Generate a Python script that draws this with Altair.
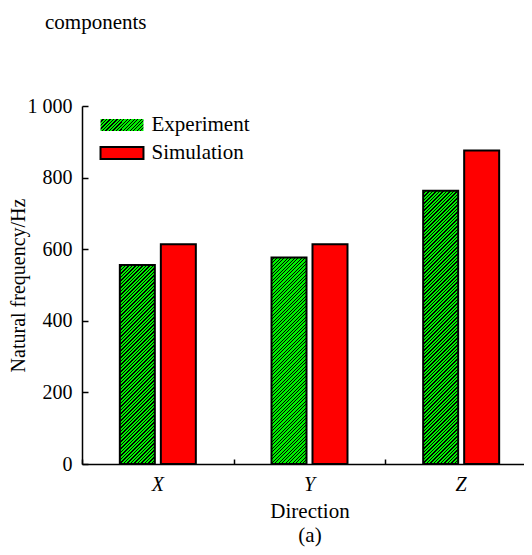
import altair as alt
import pandas as pd

directions = ["X", "Y", "Z"]
experiment = [556, 577, 763]
simulation = [614, 614, 876]
series_names = ["Experiment", "Simulation"]
y_ticks = [0, 200, 400, 600, 800, 1000]
chart_title = "components"
x_title = ["Direction", "(a)"]
y_title = "Natural frequency/Hz"

rows = []
for d, e, s in zip(directions, experiment, simulation):
    rows.append({"direction": d, "series": "Experiment", "value": e})
    rows.append({"direction": d, "series": "Simulation", "value": s})
df = pd.DataFrame(rows)

FONT = "Liberation Serif"
PLOT_H = 358
X_RANGE = 455
VIEW_W = 442
BAR_W = 35
GREEN = "#00f000"
BLACK = "#000000"
RED = "#ff0000"
PERIOD = 3.5
GREEN_PART = 0.62


def hatch(w, h):
    total = w + h
    stops = []
    k = 0
    while k * PERIOD < total:
        a = k * PERIOD
        b = a + GREEN_PART * PERIOD
        c = (k + 1) * PERIOD
        for pos, col in [(a, GREEN), (b, GREEN), (b, BLACK), (c, BLACK)]:
            stops.append({"offset": round(min(pos / total, 1.0), 5), "color": col})
        k += 1
    lam = total / (w * w + h * h)
    return alt.LinearGradient(gradient="linear", x1=0, y1=0,
                              x2=round(lam * w, 5), y2=round(lam * h, 5), stops=stops)


x_scale = alt.Scale(domain=directions, range=[0, X_RANGE], paddingInner=0, paddingOuter=0)
y_scale = alt.Scale(domain=[0, 1000], nice=False)
xo_enc = alt.XOffset(
    "series:N",
    scale=alt.Scale(domain=series_names, paddingInner=6 / 41, paddingOuter=0.9228),
)

x_main_axis = alt.Axis(
    orient="bottom",
    title=x_title,
    labelFontStyle="italic",
    labelAngle=0,
    ticks=False,
    labelPadding=10,
    titlePadding=6,
    titleLineHeight=24,
)
y_main_axis = alt.Axis(
    orient="left",
    values=y_ticks,
    title=y_title,
    labelExpr="replace(format(datum.value, ','), ',', ' ')",
    ticks=False,
    labelPadding=10,
    titleFontSize=20,
    titleX=-64,
    titleBaseline="middle",
)
x_tick_axis = alt.Axis(
    orient="bottom", offset=-5, tickSize=5, tickBand="extent",
    domain=False, labels=False, title=None,
)
y_tick_axis = alt.Axis(
    orient="left", offset=-6, tickSize=6, values=y_ticks,
    domain=False, labels=False, title=None,
)

exp_layers = []
for d, v in zip(directions, experiment):
    exp_layers.append(
        alt.Chart(df)
        .transform_filter((alt.datum.series == "Experiment") & (alt.datum.direction == d))
        .mark_bar(fill=hatch(BAR_W, v * PLOT_H / 1000), stroke="black", strokeWidth=2)
        .encode(
            x=alt.X("direction:N", sort=directions, scale=x_scale, axis=None),
            xOffset=xo_enc,
            y=alt.Y("value:Q", scale=y_scale, axis=None),
        )
    )

sim_layer = (
    alt.Chart(df)
    .transform_filter(alt.datum.series == "Simulation")
    .mark_bar(stroke="black", strokeWidth=2)
    .encode(
        x=alt.X("direction:N", sort=directions, scale=x_scale, axis=x_main_axis),
        xOffset=xo_enc,
        y=alt.Y("value:Q", scale=y_scale, axis=y_main_axis),
        fill=alt.Fill(
            "series:N",
            scale=alt.Scale(domain=["Simulation"], range=[RED]),
            legend=alt.Legend(
                title=None, orient="none", legendX=29.5, legendY=36.5,
                symbolType="M-3.58,-1H3.58V1H-3.58Z", symbolSize=144,
                symbolStrokeColor="black", symbolStrokeWidth=2, symbolOpacity=1,
                labelFont=FONT, labelFontSize=21, labelColor="black",
                labelOffset=19, padding=0,
            ),
        ),
    )
)

legend_layer = (
    alt.Chart(df)
    .transform_filter("false")
    .mark_bar(fill=hatch(43, 12), stroke="black", strokeWidth=2)
    .encode(
        x=alt.X("direction:N", sort=directions, scale=x_scale, axis=x_tick_axis),
        y=alt.Y("value:Q", scale=y_scale, axis=y_tick_axis),
        opacity=alt.Opacity(
            "series:N",
            scale=alt.Scale(domain=["Experiment"], range=[1]),
            legend=alt.Legend(
                title=None, orient="none", legendX=29.5, legendY=8.5,
                symbolType="M-3.58,-1H3.58V1H-3.58Z", symbolSize=144,
                symbolStrokeColor="black", symbolStrokeWidth=2,
                labelFont=FONT, labelFontSize=21, labelColor="black",
                labelOffset=19, padding=0,
            ),
        ),
    )
)

chart = (
    alt.layer(*exp_layers, sim_layer, legend_layer)
    .resolve_axis(x="independent", y="independent")
    .properties(
        width=VIEW_W,
        height=PLOT_H,
        autosize=alt.AutoSizeParams(type="none"),
        padding={"left": 74, "top": 98, "right": 0, "bottom": 83},
        title=alt.TitleParams(
            text=chart_title,
            anchor="start",
            frame="group",
            dx=-37,
            offset=46,
            font=FONT,
            fontSize=21,
            fontWeight="normal",
            color="black",
            baseline="alphabetic",
        ),
    )
    .configure_view(stroke=None)
    .configure_axis(
        domainColor="black",
        domainWidth=1.5,
        tickColor="black",
        tickWidth=1.5,
        grid=False,
        labelFont=FONT,
        labelFontSize=20,
        labelColor="black",
        titleFont=FONT,
        titleFontSize=21,
        titleFontWeight="normal",
        titleColor="black",
    )
)

chart.save("out.html", embed_options={"renderer": "svg", "actions": False})
